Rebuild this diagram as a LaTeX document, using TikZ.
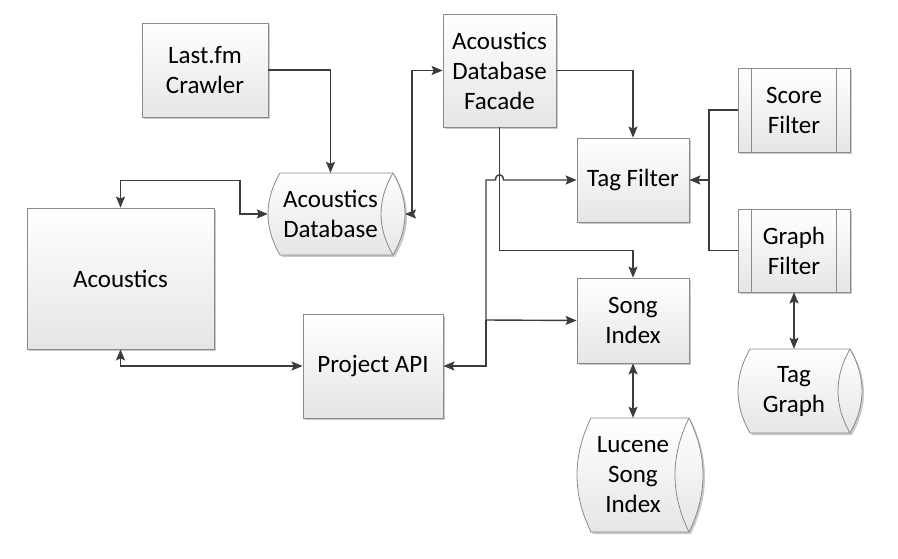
\documentclass[tikz,border=0pt]{standalone}
\usepackage{fontspec}
\setmainfont{Carlito}
\usetikzlibrary{arrows.meta,shadows,calc}
\definecolor{ln}{HTML}{3C3C3C}
\definecolor{bd}{HTML}{8A8A8A}
\tikzset{
  shad/.style={drop shadow={shadow xshift=2pt,shadow yshift=-2pt,fill=black!35,opacity=0.6}},
  txt/.style={font=\fontsize{25}{30}\selectfont,align=center},
  box/.style={draw=bd,line width=0.8pt,top color=white,bottom color=black!10,inner sep=0pt,shad,txt},
  conn/.style={draw=ln,line width=1.4pt},
  arr/.style={conn,-{Stealth[length=11pt,width=9pt,inset=2pt]}},
  biarr/.style={conn,{Stealth[length=11pt,width=9pt,inset=2pt]}-{Stealth[length=11pt,width=9pt,inset=2pt]}},
}
% #1 name, #2 L, #3 T, #4 R, #5 B, #6 bulge, #7 text
\newcommand\drawcyl[7]{%
  \path[draw=bd,line width=0.8pt,top color=white,bottom color=black!10,shad]
    (#2+#6,#3) -- (#4-#6,#3)
    .. controls (#4+#6/3,{#3+(#5-#3)/3}) and (#4+#6/3,{#5-(#5-#3)/3}) .. (#4-#6,#5)
    -- (#2+#6,#5)
    .. controls (#2-#6/3,{#5-(#5-#3)/3}) and (#2-#6/3,{#3+(#5-#3)/3}) .. (#2+#6,#3) -- cycle;
  \draw[bd,line width=0.8pt] (#4-#6,#3)
    .. controls (#4-#6*7/3,{#3+(#5-#3)/3}) and (#4-#6*7/3,{#5-(#5-#3)/3}) .. (#4-#6,#5);
  \node[txt,minimum width={(#4-#6-#2)*1pt},minimum height={(#5-#3)*1pt},inner sep=0pt] (#1) at ({(#2+#4-#6)/2},{(#3+#5)/2}) {#7};
  \coordinate (#1-r) at (#4,{(#3+#5)/2});
}
\begin{document}
\begin{tikzpicture}[x=1pt,y=-1pt]
\useasboundingbox (0,0) rectangle (898,559);

\node[box,minimum width=126pt,minimum height=94pt] (crawler) at (205,70) {Last.fm\\Crawler};
\node[box,minimum width=113pt,minimum height=113pt] (facade) at (499.5,70.5) {Acoustics\\Database\\Facade};
\node[box,minimum width=187pt,minimum height=141pt] (acoustics) at (120.5,278.5) {Acoustics};
\node[box,minimum width=140pt,minimum height=104pt] (api) at (373,366) {Project API};
\node[box,minimum width=112pt,minimum height=84pt] (tagf) at (633,180) {Tag Filter};
\node[box,minimum width=112pt,minimum height=85pt] (song) at (633,320.5) {Song\\Index};
\node[box,minimum width=112pt,minimum height=84pt] (score) at (794,110) {Score\\Filter};
\node[box,minimum width=112pt,minimum height=83pt] (graph) at (794,250.5) {Graph\\Filter};
\foreach \n in {score,graph}{
  \draw[bd,line width=0.8pt] ([xshift=14pt]\n.north west) -- ([xshift=14pt]\n.south west);
  \draw[bd,line width=0.8pt] ([xshift=-14pt]\n.north east) -- ([xshift=-14pt]\n.south east);
}

\drawcyl{db}{268}{173}{405}{255}{12}{Acoustics\\Database}
\drawcyl{lucene}{577}{418}{703}{532}{14}{Lucene\\Song\\Index}
\drawcyl{tgraph}{738}{349}{862}{433}{12}{Tag\\Graph}

\draw[arr] (crawler.east) -| (db.north);
\draw[biarr] (db-r) -- ++(7,0) |- (facade.west);
\draw[biarr] (acoustics.north) -- ++(0,-27) -| ([xshift=-28pt]db.west) -- (db.west);
\draw[biarr] (acoustics.south) |- (api.west);
\draw[arr] (facade.east) -| (tagf.north);
\draw[arr] (facade.south) -- ++(0,123) -| (song.north);
\coordinate (j) at (486,320);
\draw[arr] (j) |- (api.east);
\draw[arr] (j) -- (song.west);
\draw[arr] (j) -- (486,180) -- (495.5,180) .. controls (495.5,173) and (503.5,173) .. (503.5,180) -- (tagf.west);
\coordinate (k) at (709,180);
\draw[conn] (score.west) -| (k) |- (graph.west);
\draw[arr] (k) -- (tagf.east);
\draw[biarr] (graph.south) -- (tgraph.north);
\draw[biarr] (song.south) -- (lucene.north);
\end{tikzpicture}
\end{document}
